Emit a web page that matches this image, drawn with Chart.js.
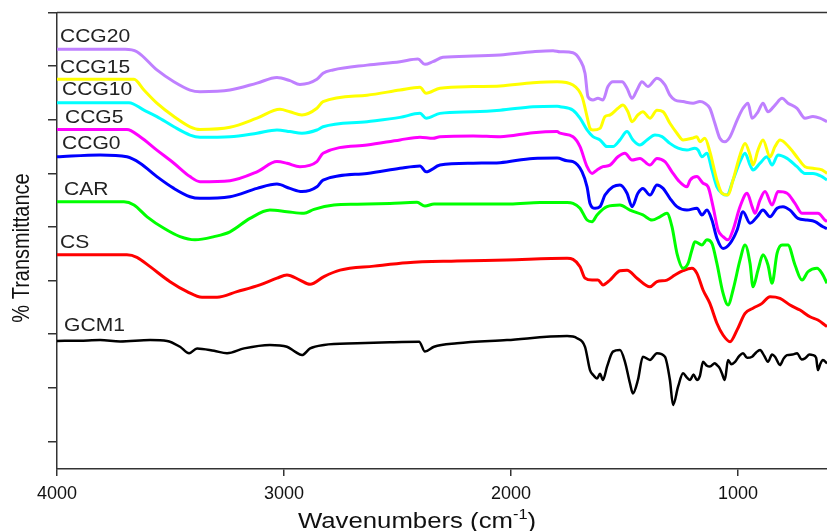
<!DOCTYPE html>
<html><head><meta charset="utf-8">
<script src="https://cdn.jsdelivr.net/npm/chart.js@4/dist/chart.umd.min.js"></script>
<style>html,body{margin:0;padding:0;background:#fff;}#wrap{width:827px;height:531px;position:relative;}</style>
</head><body><div id="wrap"><canvas id="c"></canvas></div>
<script>
// wavenumber (cm-1), transmittance (arbitrary, offset spectra)
const seriesNames = ['CCG20','CCG15','CCG10','CCG5','CCG0','CAR','CS','GCM1'];
const xTicks = [4000,3000,2000,1000];
const yTicks = [20,30,40,50,60,70,80,90,100];

const ccg20 = [[4000,93.15],[3700,93.15],[3648,92.7],[3560,89.3],[3485,87.1],[3414,85.55],[3370,85.25],[3238,85.55],[3119,86.85],[3031,87.9],[2974,87.3],[2930,86.6],[2855,87.55],[2828,88.7],[2784,89.3],[2634,90.2],[2489,90.85],[2410,91.35],[2379,90.35],[2344,90.85],[2300,91.65],[2167,91.9],[2048,92.1],[1903,92.7],[1815,92.9],[1784,92.7],[1727,92.5],[1696,91.15],[1674,88.7],[1661,84.3],[1639,83.7],[1617,84.0],[1595,83.7],[1573,86.2],[1551,87.1],[1511,87.1],[1489,85.9],[1467,84.0],[1445,85.55],[1423,87.1],[1397,86.2],[1357,87.75],[1322,86.5],[1300,84.6],[1278,83.7],[1242,83.4],[1198,83.1],[1168,83.4],[1146,83.1],[1124,82.15],[1102,79.35],[1080,76.55],[1058,75.9],[1035,76.85],[1004,79.95],[978,82.15],[956,83.1],[938,80.3],[912,81.5],[890,83.1],[868,81.5],[837,82.75],[806,84.0],[780,83.1],[740,82.15],[705,80.3],[670,80.6],[639,80.3],[608,79.65]];
const ccg15 = [[4000,87.55],[3661,87.55],[3617,85.55],[3560,83.1],[3485,80.6],[3414,78.7],[3370,78.2],[3238,78.6],[3119,80.3],[3018,81.95],[2974,81.5],[2921,80.9],[2855,82.15],[2828,83.4],[2634,84.6],[2489,85.55],[2401,86.05],[2374,84.95],[2313,85.9],[2167,86.2],[2048,86.3],[1903,86.9],[1797,87.1],[1727,86.5],[1687,84.3],[1665,80.6],[1652,78.4],[1639,78.1],[1608,78.4],[1586,80.6],[1564,80.9],[1529,82.15],[1507,82.75],[1485,81.5],[1467,79.65],[1441,80.9],[1419,81.5],[1388,80.3],[1357,81.8],[1330,81.5],[1300,79.35],[1269,77.5],[1242,76.25],[1203,76.55],[1181,76.85],[1168,75.9],[1146,76.55],[1124,74.05],[1093,68.75],[1071,66.3],[1044,65.95],[1022,68.75],[991,73.45],[969,75.6],[947,73.45],[934,71.55],[912,74.35],[890,76.25],[859,73.1],[837,75.0],[815,76.25],[771,74.7],[736,72.8],[705,71.25],[670,70.95],[630,70.65],[608,70.0]];
const ccg10 = [[4000,83.2],[3683,83.2],[3617,81.8],[3560,80.6],[3485,78.7],[3414,77.15],[3370,76.75],[3238,76.85],[3119,77.5],[3031,78.1],[2974,77.8],[2921,77.5],[2855,78.1],[2828,78.7],[2634,79.65],[2489,80.45],[2401,81.2],[2374,80.3],[2313,81.2],[2167,81.5],[2048,81.8],[1903,82.45],[1797,82.55],[1784,82.45],[1727,81.8],[1696,80.3],[1665,78.1],[1639,76.85],[1608,76.25],[1577,75.0],[1551,75.0],[1520,76.25],[1489,77.8],[1463,76.25],[1432,75.3],[1401,76.25],[1366,77.15],[1335,76.85],[1300,75.6],[1264,74.7],[1225,74.35],[1190,74.7],[1176,74.35],[1159,73.1],[1137,73.75],[1115,70.65],[1093,67.5],[1071,66.3],[1049,65.95],[1022,68.75],[991,72.2],[969,73.75],[947,71.55],[934,70.65],[903,71.9],[872,73.1],[850,71.55],[824,73.45],[784,72.8],[740,71.25],[705,70.0],[670,70.0],[630,69.4],[608,68.75]];
const ccg5 = [[4000,78.2],[3692,78.2],[3634,76.85],[3560,74.35],[3485,71.9],[3414,69.4],[3370,68.45],[3238,68.65],[3119,70.3],[3031,72.2],[2987,71.9],[2930,71.25],[2855,72.2],[2828,73.75],[2634,75.3],[2489,76.25],[2401,76.75],[2344,76.55],[2313,76.85],[2167,77.0],[2048,76.85],[1903,77.6],[1797,77.8],[1784,77.5],[1727,76.85],[1696,75.0],[1665,71.25],[1643,70.0],[1621,70.65],[1595,71.25],[1564,71.55],[1529,73.1],[1498,73.75],[1467,72.5],[1432,72.8],[1388,71.55],[1357,72.8],[1322,72.2],[1291,70.3],[1264,68.75],[1225,67.5],[1211,68.75],[1181,69.4],[1154,68.15],[1132,67.5],[1110,63.8],[1088,59.45],[1066,58.2],[1044,57.6],[1022,59.45],[991,63.8],[960,66.3],[938,63.8],[925,62.55],[903,65.05],[881,66.6],[850,64.1],[824,66.6],[784,66.3],[749,64.4],[718,62.55],[648,62.55],[617,61.3],[608,61.0]];
const ccg0 = [[4000,73.1],[3810,73.45],[3692,73.1],[3634,71.9],[3560,69.4],[3485,67.2],[3414,65.65],[3370,65.35],[3238,65.65],[3119,67.2],[3031,68.0],[2974,67.2],[2921,66.6],[2855,67.5],[2828,68.75],[2634,70.0],[2489,70.95],[2401,71.4],[2374,70.3],[2313,71.55],[2167,71.9],[2048,72.0],[1903,72.8],[1797,72.85],[1753,72.35],[1727,72.2],[1687,70.3],[1665,67.5],[1652,64.4],[1630,63.5],[1608,63.8],[1586,65.95],[1551,67.5],[1520,67.85],[1489,66.3],[1467,63.8],[1441,66.3],[1419,67.2],[1388,65.95],[1357,67.85],[1330,67.2],[1300,65.35],[1269,63.8],[1225,63.15],[1181,63.5],[1159,62.25],[1137,63.15],[1115,61.3],[1093,57.9],[1066,56.0],[1035,56.95],[1004,59.45],[978,62.85],[947,60.7],[916,61.9],[890,63.15],[859,61.9],[828,63.5],[802,63.8],[771,63.15],[736,61.6],[696,61.3],[661,61.0],[626,60.05],[608,59.7]];
const car = [[4000,64.7],[3705,64.7],[3661,64.1],[3603,61.9],[3529,59.75],[3458,58.2],[3392,57.6],[3308,58.2],[3238,59.1],[3150,61.6],[3062,63.15],[2987,62.85],[2912,62.55],[2868,63.3],[2780,64.1],[2678,64.25],[2533,64.4],[2414,64.6],[2379,63.9],[2339,64.3],[2163,64.3],[2004,64.3],[1872,64.55],[1753,64.55],[1727,64.4],[1696,63.5],[1665,61.3],[1643,61.0],[1621,62.25],[1577,63.8],[1520,64.1],[1476,63.15],[1419,62.25],[1379,61.3],[1344,61.9],[1313,62.55],[1291,60.05],[1269,55.1],[1242,52.3],[1220,53.2],[1203,55.7],[1190,57.25],[1159,56.65],[1137,57.6],[1115,56.95],[1093,53.2],[1066,47.65],[1044,45.45],[1022,48.25],[991,53.85],[969,56.65],[947,53.2],[934,48.85],[912,51.95],[890,54.8],[868,52.9],[850,49.5],[828,55.1],[806,56.65],[780,56.65],[749,52.9],[718,50.1],[692,51.65],[652,52.3],[630,51.35],[608,49.5]];
const cs = [[4000,54.8],[3692,54.8],[3648,54.35],[3590,52.6],[3502,49.8],[3427,47.95],[3361,46.9],[3295,46.9],[3207,47.95],[3106,49.2],[3031,50.45],[2987,51.05],[2930,50.1],[2885,49.3],[2824,50.75],[2753,51.95],[2604,52.7],[2458,53.35],[2238,53.65],[2018,53.85],[1753,54.15],[1727,53.95],[1696,52.6],[1674,50.45],[1643,50.1],[1617,50.1],[1595,49.2],[1564,50.1],[1520,51.85],[1489,51.95],[1445,50.45],[1388,48.85],[1357,49.8],[1313,50.1],[1278,51.05],[1242,51.85],[1203,52.3],[1181,51.35],[1154,48.25],[1124,45.75],[1093,42.05],[1066,39.85],[1035,38.6],[1004,40.8],[969,43.9],[934,44.85],[894,45.75],[859,47.0],[815,46.7],[771,45.45],[727,44.5],[683,43.25],[648,42.65],[617,41.7],[608,41.4]];
const gcm1 = [[4000,38.75],[3899,38.8],[3810,38.9],[3722,38.65],[3590,38.9],[3515,38.75],[3458,37.65],[3418,36.45],[3383,37.35],[3308,36.9],[3251,36.45],[3176,37.35],[3062,38.0],[2987,37.65],[2952,36.75],[2921,36.1],[2885,37.35],[2824,38.0],[2678,38.3],[2533,38.5],[2405,38.6],[2379,36.75],[2339,37.65],[2238,38.3],[2018,38.9],[1753,39.65],[1709,39.25],[1674,37.65],[1652,33.3],[1636,32.3],[1621,31.75],[1608,32.6],[1595,31.45],[1577,33.95],[1551,36.75],[1520,37.05],[1498,34.85],[1476,30.85],[1463,28.95],[1441,31.45],[1419,35.8],[1388,35.2],[1357,36.45],[1322,35.8],[1300,31.45],[1286,26.8],[1264,30.2],[1242,32.7],[1225,31.9],[1211,31.45],[1196,32.5],[1181,31.45],[1168,32.2],[1154,34.85],[1137,34.1],[1124,33.95],[1102,34.6],[1093,34.25],[1080,33.6],[1071,32.7],[1058,31.45],[1044,35.2],[1030,34.4],[1013,34.85],[995,35.9],[978,36.45],[960,35.6],[938,35.8],[920,36.6],[903,37.05],[885,36.0],[868,34.85],[850,36.2],[837,35.8],[815,34.25],[800,35.4],[784,36.1],[760,36.2],[740,36.45],[720,35.3],[705,35.5],[685,36.2],[670,36.1],[656,35.6],[648,33.3],[638,34.4],[626,35.2],[608,34.55]];

const seriesData = [ccg20, ccg15, ccg10, ccg5, ccg0, car, cs, gcm1];
const seriesColors = ['#BF80FF','#FFFF00','#00FFFF','#FF00FF','#0000FF','#00FF00','#FF0000','#000000'];
const seriesWidths = [3,3,3,3,3,3,3,2.5];
// label anchor (wavenumber, value) for each curve name
const labelX = [3987,3987,3978,3965,3978,3969,3987,3969];
const labelY = [95.45,89.66,85.56,80.33,75.48,66.98,57.1,41.5];
const xTitle = ['Wavenumbers (cm', '-1', ')'];
const yTitle = '% Transmittance';

const FONT = "'Liberation Sans', Arial, sans-serif";
const AXIS = '#333333';
const STRETCH = 1.17;

const extras = {
  id: 'extras',
  afterDatasetsDraw(chart) {
    const {ctx, chartArea, scales} = chart;
    ctx.save();
    ctx.strokeStyle = AXIS; ctx.lineWidth = 1.5;
    ctx.beginPath(); ctx.moveTo(chartArea.left, chartArea.top); ctx.lineTo(chartArea.right, chartArea.top); ctx.stroke();
    ctx.fillStyle = '#222';
    ctx.font = '18px ' + FONT;
    ctx.textBaseline = 'middle'; ctx.textAlign = 'left';
    seriesNames.forEach((n, i) => {
      const px = scales.x.getPixelForValue(labelX[i]);
      const py = scales.y.getPixelForValue(labelY[i]);
      ctx.save(); ctx.translate(px, py); ctx.scale(STRETCH, 1); ctx.fillText(n, 0, 0); ctx.restore();
    });
    // x axis title (centered below plot)
    ctx.fillStyle = '#111';
    ctx.save();
    ctx.font = '22px ' + FONT;
    const w1 = ctx.measureText(xTitle[0]).width;
    ctx.font = '14px ' + FONT;
    const w2 = ctx.measureText(xTitle[1]).width;
    ctx.font = '22px ' + FONT;
    const w3 = ctx.measureText(xTitle[2]).width;
    const total = w1 + w2 + w3;
    ctx.translate(417, 528);
    ctx.scale(STRETCH, 1);
    ctx.textBaseline = 'alphabetic';
    let x0 = -total / 2;
    ctx.fillText(xTitle[0], x0, 0);
    ctx.font = '14px ' + FONT;
    ctx.fillText(xTitle[1], x0 + w1, -9);
    ctx.font = '22px ' + FONT;
    ctx.fillText(xTitle[2], x0 + w1 + w2, 0);
    ctx.restore();
    // y axis title
    ctx.save();
    ctx.font = '20px ' + FONT;
    ctx.translate(23, 248);
    ctx.scale(STRETCH, 1);
    ctx.rotate(-Math.PI / 2);
    ctx.textAlign = 'center'; ctx.textBaseline = 'middle';
    ctx.fillText(yTitle, 0, 0);
    ctx.restore();
    ctx.restore();
  }
};

new Chart(document.getElementById('c'), {
  type: 'line',
  data: {
    datasets: seriesNames.map((n, i) => ({
      label: n,
      data: seriesData[i].map(p => ({x: p[0], y: p[1]})),
      borderColor: seriesColors[i],
      borderWidth: seriesWidths[i],
      pointRadius: 0,
      cubicInterpolationMode: 'monotone',
      fill: false
    }))
  },
  options: {
    responsive: true, maintainAspectRatio: false, animation: false,
    layout: {padding: {top: 12.6, right: 0, bottom: 0, left: 0}},
    plugins: {legend: {display: false}, tooltip: {enabled: false}},
    scales: {
      x: {
        type: 'linear', reverse: true, min: 608, max: 4000,
        afterBuildTicks: s => { s.ticks = xTicks.map(v => ({value: v})); },
        afterFit: s => { s.height = 62; },
        grid: {drawOnChartArea: false, drawTicks: true, tickLength: 7, color: AXIS, lineWidth: 1.5},
        border: {display: true, color: AXIS, width: 1.5},
        ticks: {font: {family: FONT, size: 18}, color: '#111', padding: 7, maxRotation: 0, autoSkip: false, callback: v => String(v)},
        title: {display: false}
      },
      y: {
        type: 'linear', min: 14.85, max: 100,
        afterBuildTicks: s => { s.ticks = yTicks.map(v => ({value: v})); },
        afterFit: s => { s.width = 57; },
        grid: {drawOnChartArea: false, drawTicks: true, tickLength: 9, color: AXIS, lineWidth: 1.5},
        border: {display: true, color: AXIS, width: 1.5},
        ticks: {callback: () => '', padding: 0},
        title: {display: false}
      }
    }
  },
  plugins: [extras]
});
</script></body></html>
